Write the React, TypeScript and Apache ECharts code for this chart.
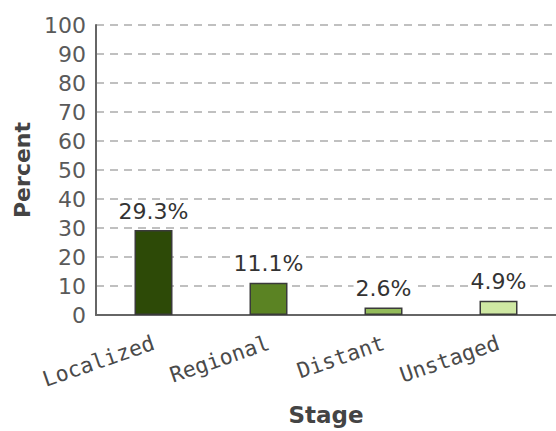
import React, { useEffect, useRef } from "react";
import * as echarts from "echarts";

const categories = ["Localized", "Regional", "Distant", "Unstaged"];
const percentValues = [29.3, 11.1, 2.6, 4.9];
const barColors = ["#2d4a07", "#5b8323", "#93bb5a", "#cfe8a3"];
const yTicks = { min: 0, max: 100, interval: 10 };

export default function App() {
  const ref = useRef<HTMLDivElement>(null);
  useEffect(() => {
    document.body.style.margin = "0";
    if (!ref.current) return;
    const chart = echarts.init(ref.current, undefined, { renderer: "svg" });
    chart.setOption({
      animation: false,
      backgroundColor: "#ffffff",
      grid: { left: 96, right: -5, top: 25, bottom: 112.5, containLabel: false },
      xAxis: {
        type: "category",
        data: categories,
        name: "Stage",
        nameLocation: "middle",
        nameGap: 88,
        nameTextStyle: { fontFamily: "DejaVu Sans", fontWeight: "bold", fontSize: 23, color: "#444" },
        axisLine: { show: true, lineStyle: { color: "#666", width: 2 } },
        axisTick: { show: false },
        axisLabel: {
          rotate: 19,
          margin: 27,
          fontFamily: "DejaVu Sans Mono",
          fontSize: 21.5,
          color: "#4a4a4a",
          interval: 0,
          padding: [0, 0, 0, 10],
        },
      },
      yAxis: {
        type: "value",
        min: yTicks.min,
        max: yTicks.max,
        interval: yTicks.interval,
        name: "Percent",
        nameLocation: "middle",
        nameGap: 63,
        nameTextStyle: { fontFamily: "DejaVu Sans", fontWeight: "bold", fontSize: 22, color: "#444" },
        axisLine: { show: true, lineStyle: { color: "#666", width: 2 } },
        axisTick: { show: false },
        axisLabel: { fontFamily: "DejaVu Sans", fontSize: 22, color: "#5a5a5a", margin: 10 },
        splitLine: { show: true, lineStyle: { color: "#c0c0c0", width: 2, type: [8, 6] } },
      },
      series: [
        {
          type: "bar",
          barWidth: 38,
          data: percentValues.map((v, i) => ({
            value: v,
            itemStyle: { color: barColors[i], borderColor: "#3a3a3a", borderWidth: 1.5 },
          })),
          label: {
            show: true,
            position: "top",
            distance: 8,
            formatter: (p: any) => p.value + "%",
            fontFamily: "DejaVu Sans",
            fontSize: 22,
            color: "#333333",
            backgroundColor: "#ffffff",
            padding: [0, 2],
          },
        },
      ],
    });
    return () => chart.dispose();
  }, []);
  return <div ref={ref} style={{ width: 556, height: 431 }} />;
}
